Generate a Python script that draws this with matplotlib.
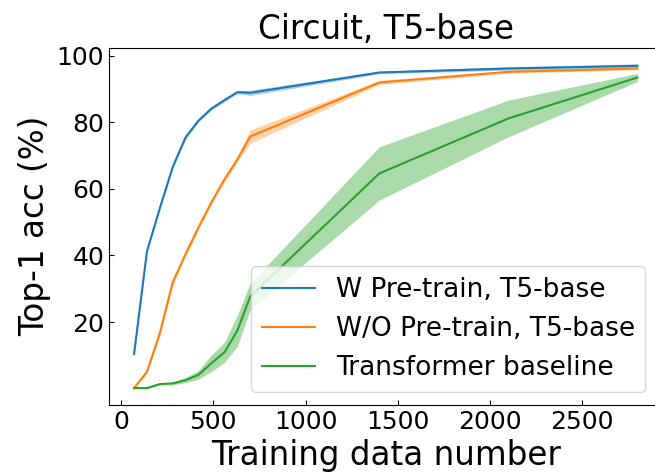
import numpy as np
import matplotlib
matplotlib.use('Agg')
import matplotlib.pyplot as plt

# training set sizes
SIZES = [70, 140, 210, 280, 350, 420, 490, 560, 630, 700, 1400, 2100, 2800]

# mean top-1 accuracy (%) and std across runs
w_pre_mean  = [10.4, 41.3, 54.2, 66.6, 75.5, 80.5, 84.1, 86.6, 89.0, 88.8, 94.9, 96.1, 96.9]
w_pre_std   = [0.3, 0.4, 0.4, 0.5, 0.6, 0.5, 0.5, 0.5, 0.5, 0.8, 0.4, 0.5, 0.6]

wo_pre_mean = [0.2, 5.1, 16.7, 32.0, 40.5, 48.5, 56.0, 62.8, 68.8, 75.7, 91.9, 95.1, 96.1]
wo_pre_std  = [0.2, 0.5, 0.8, 1.0, 0.7, 0.6, 0.7, 0.8, 0.8, 2.0, 0.6, 0.4, 0.4]

tf_mean     = [0.2, 0.2, 1.4, 1.6, 2.6, 4.2, 7.7, 10.9, 17.4, 27.7, 64.6, 81.1, 93.4]
tf_std      = [0.1, 0.2, 0.3, 0.4, 0.8, 1.3, 2.5, 3.0, 4.7, 4.0, 8.0, 5.5, 1.2]

series = [
    ('W Pre-train, T5-base',    w_pre_mean,  w_pre_std,  'tab:blue',   0.35),
    ('W/O Pre-train, T5-base',  wo_pre_mean, wo_pre_std, 'tab:orange', 0.35),
    ('Transformer baseline',    tf_mean,     tf_std,     'tab:green',  0.4),
]

fig = plt.figure(figsize=(6.55, 4.74), dpi=100)
ax = fig.add_axes([0.1664, 0.1456, 0.845, 0.754])

x = np.array(SIZES)
for label, mean, std, color, alpha in series:
    m = np.array(mean)
    s = np.array(std)
    ax.plot(x, m, color=color, linewidth=1.5, label=label)
    ax.fill_between(x, m - s, m + s, color=color, alpha=alpha, linewidth=0)

ax.set_xlim(-66, 2936)
ax.set_yticks([20, 40, 60, 80, 100])
ax.set_xticks([0, 500, 1000, 1500, 2000, 2500])
ax.tick_params(direction='in', labelsize=18)
ax.spines['right'].set_visible(False)  # falls off the canvas edge anyway
ax.set_xlabel('Training data number', fontsize=23.5)
ax.set_ylabel('Top-1 acc (%)', fontsize=23.5)
ax.set_title('Circuit, T5-base', fontsize=23.5)
ax.legend(loc='lower right', fontsize=19, bbox_to_anchor=(0.993, 0.0))

fig.savefig('out.png', dpi=100)
